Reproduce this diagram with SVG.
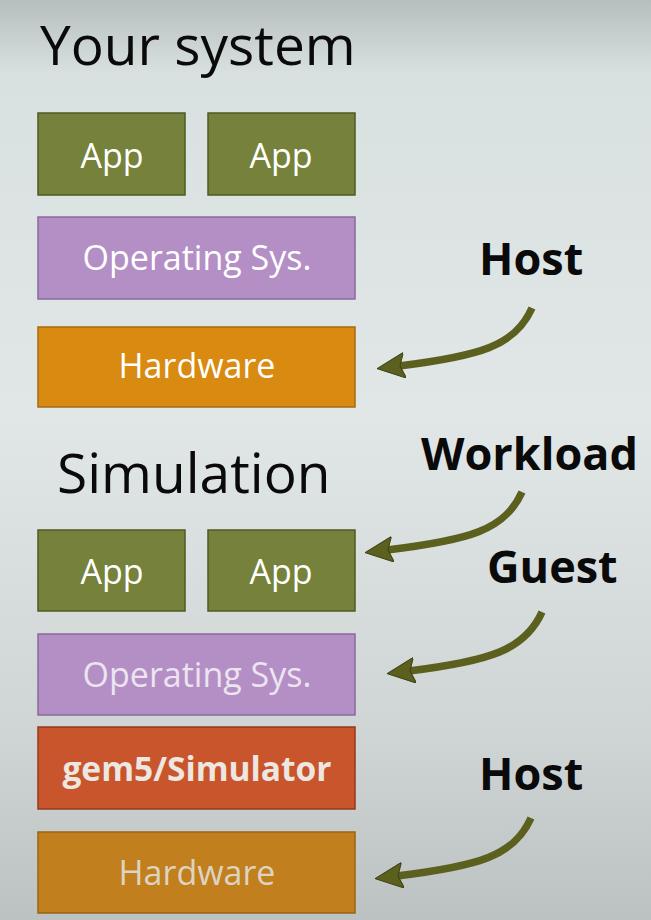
<svg xmlns="http://www.w3.org/2000/svg" width="651" height="920" viewBox="0 0 651 920">
<defs>
<linearGradient id="bg" x1="0" y1="0" x2="0" y2="1">
<stop offset="0" stop-color="#b6bebe"/>
<stop offset="0.08" stop-color="#d9e0e0"/>
<stop offset="0.45" stop-color="#e1e7e7"/>
<stop offset="0.8" stop-color="#cfd5d5"/>
<stop offset="1" stop-color="#bcc2c2"/>
</linearGradient>
<marker id="ah" markerUnits="userSpaceOnUse" viewBox="0 0 28 26" markerWidth="28" markerHeight="26" refX="6" refY="13" orient="auto">
<path d="M0,0 L28,13 L0,26 L5,13 Z" fill="#5c601f" stroke="#3c3e12" stroke-width="1"/>
</marker>
</defs>
<style>
.title{font-family:"Open Sans","Noto Sans",sans-serif;font-size:55px;fill:#0a0a0a}
.lbl{font-family:"Open Sans","Noto Sans",sans-serif;font-weight:bold;font-size:45px;fill:#0a0a0a}
.bt{font-family:"Open Sans","Noto Sans",sans-serif;font-size:34px;fill:#ffffff;text-anchor:middle}
.app{fill:#76823b;stroke:#4e5a22;stroke-width:1.5}
.os{fill:#b48fc6;stroke:#8a6a9a;stroke-width:1.5}
.hw{fill:#d98a10;stroke:#a86a10;stroke-width:1.5}
.hw2{fill:#c27f1d;stroke:#9a6412;stroke-width:1.5}
.gem{fill:#c8552b;stroke:#96381a;stroke-width:1.5}
.arr{fill:none;stroke:#5c601f;stroke-width:7.5;stroke-linecap:butt;marker-end:url(#ah)}
</style>
<rect x="0" y="0" width="651" height="920" fill="url(#bg)"/>
<text class="title" x="40" y="65">Your system</text>
<text class="title" x="57" y="493">Simulation</text>
<g id="host-app1"><rect class="app" x="38" y="113" width="147" height="82"/><text class="bt" x="112" y="168">App</text></g>
<g id="host-app2"><rect class="app" x="208" y="113" width="147" height="82"/><text class="bt" x="281" y="168">App</text></g>
<g id="host-os"><rect class="os" x="38" y="217" width="317" height="82"/><text class="bt" x="197" y="270">Operating Sys.</text></g>
<g id="host-hw"><rect class="hw" x="38" y="327" width="317" height="80"/><text class="bt" x="197" y="378">Hardware</text></g>
<g id="sim-app1"><rect class="app" x="38" y="530" width="147" height="81"/><text class="bt" x="112" y="584">App</text></g>
<g id="sim-app2"><rect class="app" x="208" y="530" width="147" height="81"/><text class="bt" x="281" y="584">App</text></g>
<g id="sim-os"><rect class="os" x="38" y="634" width="317" height="81"/><text class="bt" x="197" y="687" style="fill:#ece4ee">Operating Sys.</text></g>
<g id="sim-gem5"><rect class="gem" x="38" y="727" width="317" height="82"/><text class="bt" x="197" y="781" style="font-weight:bold;font-size:33.5px;fill:#eee6e0">gem5/Simulator</text></g>
<g id="sim-hw"><rect class="hw2" x="38" y="832" width="317" height="81"/><text class="bt" x="197" y="885" style="fill:#ddd3c2">Hardware</text></g>
<g id="label-host1"><text class="lbl" x="479" y="275">Host</text></g>
<g id="label-workload"><text class="lbl" x="421" y="470">Workload</text></g>
<g id="label-guest"><text class="lbl" x="487" y="583">Guest</text></g>
<g id="label-host2"><text class="lbl" x="479" y="790">Host</text></g>
<g id="connectors">
<path class="arr" d="M532,308 C515,346 480,356 399,366"/>
<path class="arr" d="M522,492 C505,530 470,540 387,550"/>
<path class="arr" d="M542,612 C525,650 490,661 409,671"/>
<path class="arr" d="M531,818 C514,856 479,866 397,876"/>
</g>
</svg>
